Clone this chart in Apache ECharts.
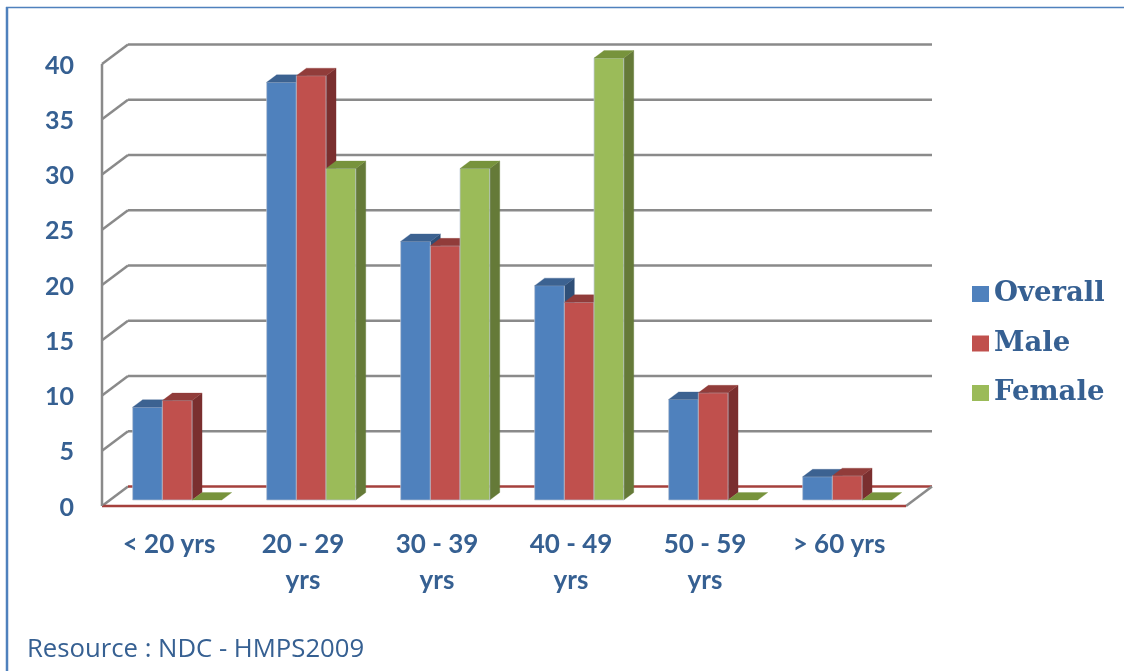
<!DOCTYPE html>
<html><head><meta charset="utf-8">
<style>html,body{margin:0;padding:0;background:#fff}#c{width:1124px;height:671px}</style>
<script src="https://cdn.jsdelivr.net/npm/echarts@6/dist/echarts.min.js"></script>
</head><body><div id="c"></div>
<script>
const categories = ['< 20 yrs','20 - 29\nyrs','30 - 39\nyrs','40 - 49\nyrs','50 - 59\nyrs','> 60 yrs'];
const overall = [8.4, 37.8, 23.4, 19.4, 9.1, 2.1];
const male = [9.0, 38.4, 23.0, 17.9, 9.7, 2.2];
const female = [0, 30, 30, 40, 0, 0];
const yTicks = [0,5,10,15,20,25,30,35,40];

const TEXT = '#366092', GRID = '#8a8a8a', FLOOR = '#a5403c';
const WALL_DX = 26, WALL_DY = -19.5;   // depth of the wall
const PLANE_DX = 8.2, PLANE_DY = -6;   // shift of the bar plane from the front
const BAR_W = 29.7, DEPTH_X = 10, DEPTH_Y = 7.5;

const palettes = {
  Overall:{front:'#4f81bd',top:'#3c6291',side:'#2f4f77'},
  Male:{front:'#c0504d',top:'#913c3a',side:'#7a2f2f'},
  Female:{front:'#9bbb59',top:'#77933c',side:'#657a38'}
};

function wall(params, api){
  const v = api.value(1), cs = params.coordSys;
  const y = api.coord([0, v])[1];
  const x0 = cs.x, x1 = cs.x + cs.width;
  const col = v === 0 ? FLOOR : GRID;
  const line = (a,b,c,d,stroke) => ({type:'line',shape:{x1:a,y1:b,x2:c,y2:d},style:{stroke,lineWidth:2.5}});
  const out = [
    line(x0,y,x0+WALL_DX,y+WALL_DY,GRID),
    line(x0+WALL_DX,y+WALL_DY,x1+WALL_DX,y+WALL_DY,col)
  ];
  if (v === 0) {
    out.push(line(x1,y,x1+WALL_DX,y+WALL_DY,GRID));
    out.push(line(x0,y,x1,y,FLOOR));
    out.push(line(x0,api.coord([0,40])[1],x0,y,GRID));
  }
  return {type:'group',children:out};
}

function bar(idx, name){
  const p = palettes[name];
  return function(params, api){
    const c = api.value(0), v = api.value(1);
    const cx = api.coord([c,0])[0] + PLANE_DX;
    const l = cx - 1.5*BAR_W + idx*BAR_W, r = l + BAR_W;
    const b = api.coord([c,0])[1] + PLANE_DY;
    const t = api.coord([c,v])[1] + PLANE_DY;
    const poly = (pts,fill,stroke) => ({type:'polygon',shape:{points:pts},style:{fill,stroke:stroke||fill,lineWidth:stroke?0.7:0.3}});
    const kids = [];
    if (v > 0) {
      kids.push(poly([[r,t],[r+DEPTH_X,t-DEPTH_Y],[r+DEPTH_X,b-DEPTH_Y],[r,b]],p.side));
      kids.push(poly([[l,t],[r,t],[r,b],[l,b]],p.front,'#b9c4d4'));
    }
    kids.push(poly([[l,t],[r,t],[r+DEPTH_X,t-DEPTH_Y],[l+DEPTH_X,t-DEPTH_Y]],p.top));
    return {type:'group',children:kids};
  };
}

const mk = (name,vals,idx) => ({
  name,type:'custom',clip:false,z:3,
  itemStyle:{color:palettes[name].front},
  encode:{x:0,y:1},
  renderItem:bar(idx,name),
  data:vals.map((v,i)=>[i,v])
});

const chart = echarts.init(document.getElementById('c'),null,{renderer:'canvas'});
chart.setOption({
  animation:false,
  backgroundColor:'#fff',
  grid:{left:102,right:218,top:64,bottom:165,containLabel:false},
  xAxis:{type:'category',data:categories,axisLine:{show:false},axisTick:{show:false},
    axisLabel:{interval:0,margin:21,fontFamily:'Lato',fontWeight:'bold',fontSize:26,color:TEXT,lineHeight:36}},
  yAxis:{type:'value',min:0,max:40,interval:5,axisLine:{show:false},axisTick:{show:false},splitLine:{show:false},
    axisLabel:{margin:28,fontFamily:'Lato',fontWeight:'bold',fontSize:25,color:TEXT,verticalAlign:'top',lineHeight:3}},
  legend:{orient:'vertical',left:967,top:275,itemWidth:17,itemHeight:16,itemGap:21.5,icon:'rect',
    data:['Overall','Male','Female'],
    textStyle:{fontFamily:'DejaVu Serif',fontWeight:'bold',fontSize:27.5,color:TEXT,padding:[0,0,0,0]}},
  graphic:[
    {type:'line',shape:{x1:7,y1:7,x2:7,y2:671},style:{stroke:'#4f81bd',lineWidth:2.5},z:0},
    {type:'line',shape:{x1:6,y1:7.5,x2:1124,y2:7.5},style:{stroke:'#4f81bd',lineWidth:1.5},z:0},
    {type:'text',left:27,top:637,style:{text:'Resource : NDC - HMPS2009',fill:TEXT,font:'25.7px "Open Sans"'},z:5}
  ],
  series:[
    {name:'walls',type:'custom',clip:false,z:1,encode:{x:0,y:1},renderItem:wall,data:yTicks.map(v=>[0,v])},
    mk('Overall',overall,0),mk('Male',male,1),mk('Female',female,2)
  ]
});
</script></body></html>
